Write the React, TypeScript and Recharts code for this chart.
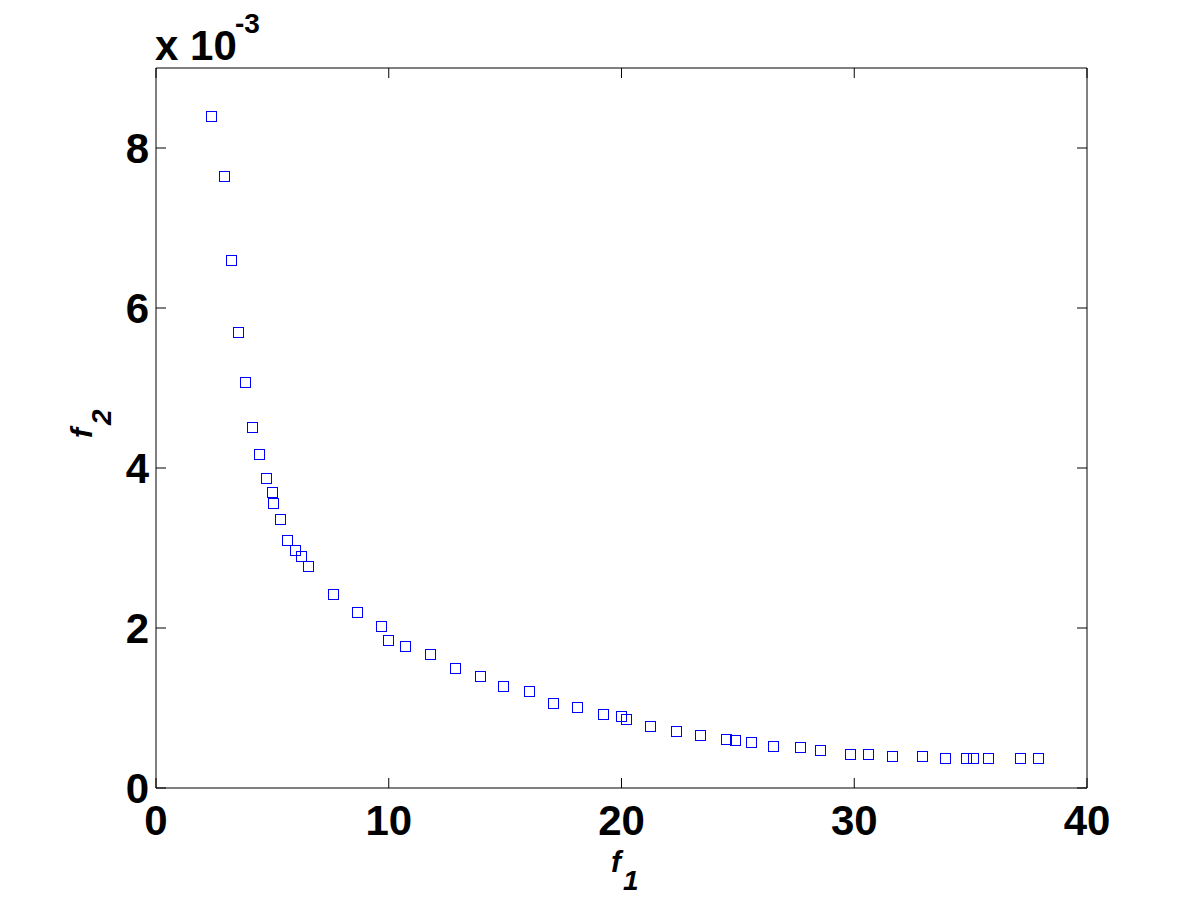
import React from "react";
import { ScatterChart, Scatter, XAxis, YAxis } from "recharts";

// f1 values (x axis)
const f1Values: number[] = [
  2.36, 2.92, 3.22, 3.52, 3.83, 4.13, 4.43, 4.73, 4.99, 5.03, 5.33, 5.64, 5.98, 6.24, 6.54,
  7.61, 8.64, 9.67, 9.97, 10.7, 11.77, 12.85, 13.92, 14.91, 16.02, 17.05, 18.08, 19.2, 19.97,
  20.19, 21.21, 22.33, 23.36, 24.48, 24.86, 25.55, 26.49, 27.65, 28.51, 29.8, 30.61, 31.64,
  32.93, 33.92, 34.78, 35.12, 35.76, 37.14, 37.91,
];
// f2 values, in units of 10^-3 (y axis)
const f2Values: number[] = [
  8.4, 7.65, 6.6, 5.7, 5.07, 4.51, 4.17, 3.87, 3.7, 3.56, 3.36, 3.1, 2.97, 2.9, 2.77,
  2.42, 2.2, 2.02, 1.85, 1.78, 1.68, 1.5, 1.4, 1.27, 1.21, 1.06, 1.01, 0.93, 0.9,
  0.86, 0.78, 0.71, 0.66, 0.61, 0.6, 0.57, 0.52, 0.51, 0.47, 0.43, 0.42, 0.4,
  0.4, 0.38, 0.38, 0.37, 0.37, 0.38, 0.38,
];
const xTicks: number[] = [0, 10, 20, 30, 40];
const yTicks: number[] = [0, 2, 4, 6, 8];
const exponentLabel = "x 10";
const exponentPower = "-3";

const points = f1Values.map((x, i) => ({ x, y: f2Values[i] }));

const FONT = "'Liberation Sans', Arial, Helvetica, sans-serif";
const W = 1201;
const H = 901;

const SquareMarker = (props: any) => {
  const { cx, cy } = props;
  if (cx == null || cy == null) return null;
  return (
    <rect
      x={Math.round(cx) - 5 + 0.5}
      y={Math.round(cy) - 5 + 0.5}
      width={10}
      height={10}
      fill="none"
      stroke="#0000ff"
      strokeWidth={1}
    />
  );
};

const BottomTick = (props: any) => {
  const { x, y, payload } = props;
  return (
    <g>
      <line x1={x} y1={y} x2={x} y2={y - 10} stroke="#000" strokeWidth={1} />
      <text
        x={x}
        y={y + 47}
        textAnchor="middle"
        fontFamily={FONT}
        fontWeight="bold"
        fontSize={42}
        fill="#000"
      >
        {payload.value}
      </text>
    </g>
  );
};

const TopTick = (props: any) => {
  const { x, y } = props;
  return <line x1={x} y1={y} x2={x} y2={y + 10} stroke="#000" strokeWidth={1} />;
};

const LeftTick = (props: any) => {
  const { x, y, payload } = props;
  return (
    <g>
      <line x1={x} y1={y} x2={x + 10} y2={y} stroke="#000" strokeWidth={1} />
      <text
        x={x - 7}
        y={y + 15}
        textAnchor="end"
        fontFamily={FONT}
        fontWeight="bold"
        fontSize={42}
        fill="#000"
      >
        {payload.value}
      </text>
    </g>
  );
};

const RightTick = (props: any) => {
  const { x, y } = props;
  return <line x1={x} y1={y} x2={x - 10} y2={y} stroke="#000" strokeWidth={1} />;
};

export default function App() {
  return (
    <div style={{ position: "absolute", left: 0, top: 0, width: W, height: H, background: "#fff" }}>
      <div style={{ position: "absolute", left: 0, top: 0 }}>
        <ScatterChart
          width={W}
          height={H}
          margin={{ top: 67, right: 113, bottom: 112, left: 155 }}
        >
          <XAxis
            xAxisId="b"
            type="number"
            dataKey="x"
            orientation="bottom"
            domain={[0, 40]}
            ticks={xTicks}
            allowDataOverflow
            height={1}
            tickSize={0}
            tickMargin={0}
            tickLine={false}
            axisLine={{ stroke: "#000", strokeWidth: 1 }}
            tick={<BottomTick />}
            interval={0}
          />
          <XAxis
            xAxisId="t"
            type="number"
            dataKey="x"
            orientation="top"
            domain={[0, 40]}
            ticks={xTicks}
            allowDataOverflow
            height={1}
            tickSize={0}
            tickMargin={0}
            tickLine={false}
            axisLine={{ stroke: "#000", strokeWidth: 1 }}
            tick={<TopTick />}
            interval={0}
          />
          <YAxis
            yAxisId="l"
            type="number"
            dataKey="y"
            orientation="left"
            domain={[0, 9]}
            ticks={yTicks}
            allowDataOverflow
            width={1}
            tickSize={0}
            tickMargin={0}
            tickLine={false}
            axisLine={{ stroke: "#000", strokeWidth: 1 }}
            tick={<LeftTick />}
            interval={0}
          />
          <YAxis
            yAxisId="r"
            type="number"
            dataKey="y"
            orientation="right"
            domain={[0, 9]}
            ticks={yTicks}
            allowDataOverflow
            width={1}
            tickSize={0}
            tickMargin={0}
            tickLine={false}
            axisLine={{ stroke: "#000", strokeWidth: 1 }}
            tick={<RightTick />}
            interval={0}
          />
          <Scatter
            xAxisId="b"
            yAxisId="l"
            data={points}
            shape={<SquareMarker />}
            isAnimationActive={false}
          />
        </ScatterChart>
      </div>
      <svg
        width={W}
        height={H}
        style={{ position: "absolute", left: 0, top: 0, pointerEvents: "none" }}
      >
        <text x={155} y={60} fontFamily={FONT} fontWeight="bold" fontSize={42} fill="#000">
          {exponentLabel}
        </text>
        <text x={235} y={33} fontFamily={FONT} fontWeight="bold" fontSize={28} fill="#000">
          {exponentPower}
        </text>
        <text x={611} y={872} fontFamily={FONT} fontWeight="bold" fontStyle="italic" fontSize={30} fill="#000">
          f
        </text>
        <text x={623} y={890} fontFamily={FONT} fontWeight="bold" fontStyle="italic" fontSize={28} fill="#000">
          1
        </text>
        <g transform="translate(92,438) rotate(-90)">
          <text x={0} y={0} fontFamily={FONT} fontWeight="bold" fontStyle="italic" fontSize={30} fill="#000">
            f
          </text>
          <text x={13} y={19} fontFamily={FONT} fontWeight="bold" fontStyle="italic" fontSize={28} fill="#000">
            2
          </text>
        </g>
      </svg>
    </div>
  );
}
